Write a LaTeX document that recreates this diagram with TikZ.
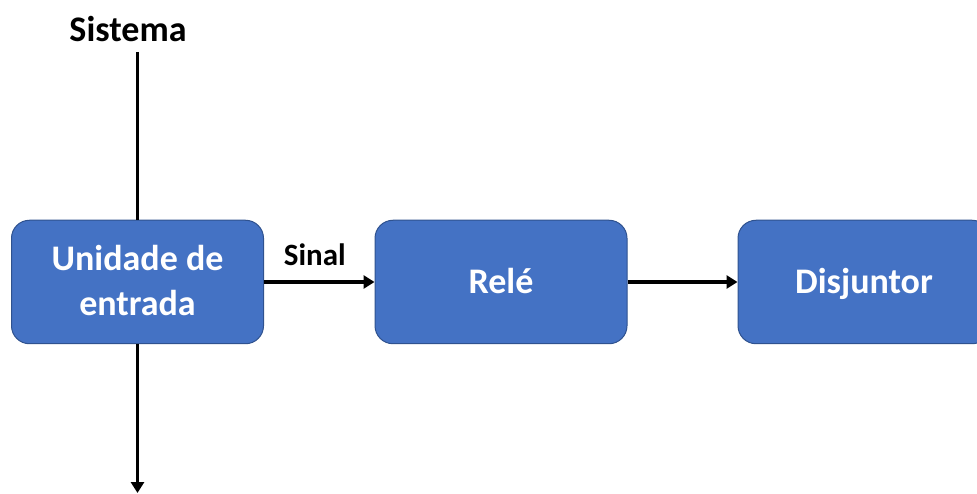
\documentclass[tikz,border=0pt]{standalone}
\usepackage{fontspec}
\setmainfont{Carlito}
\usetikzlibrary{arrows.meta}
\definecolor{boxblue}{HTML}{4472C4}
\definecolor{boxedge}{HTML}{2F528F}
\begin{document}
\begin{tikzpicture}[x=1pt,y=1pt,
  blk/.style={draw=boxedge, line width=1pt, fill=boxblue, rounded corners=18pt,
    minimum width=252pt, minimum height=123.5pt, inner sep=0pt, text=white,
    font=\fontsize{36}{45}\selectfont\bfseries, align=center},
  oneline/.style={text height=23pt, text depth=0pt},
  twoline/.style={text height=68pt, text depth=0pt},
  conn/.style={line width=3.5pt, draw=black},
  arr/.style={conn, -{Triangle[length=11pt,width=13pt]}},
  lbl/.style={anchor=base, inner sep=0pt, text=black}]
\useasboundingbox (0,0) rectangle (977,493);
\clip (0,0) rectangle (977,493);
\coordinate (top) at (137.5,441);
\coordinate (bot) at (137.5,0);
\node[blk, twoline] (ue) at (137.5,211) {Unidade de\\entrada};
\node[blk, oneline] (rele) at (501,211) {Relé};
\node[blk, oneline] (dj) at (864,211) {Disjuntor};
\node[lbl, font=\fontsize{36}{43}\selectfont\bfseries] (sis) at (128,451) {Sistema};
\draw[conn] (top) -- (ue.north);
\draw[arr] (ue.south) -- (bot);
\draw[arr] (ue.east) -- node[lbl, font=\fontsize{31}{37}\selectfont\bfseries, pos=0.46, yshift=16pt] (sinal) {Sinal} (rele.west);
\draw[arr] (rele.east) -- (dj.west);
\end{tikzpicture}
\end{document}
